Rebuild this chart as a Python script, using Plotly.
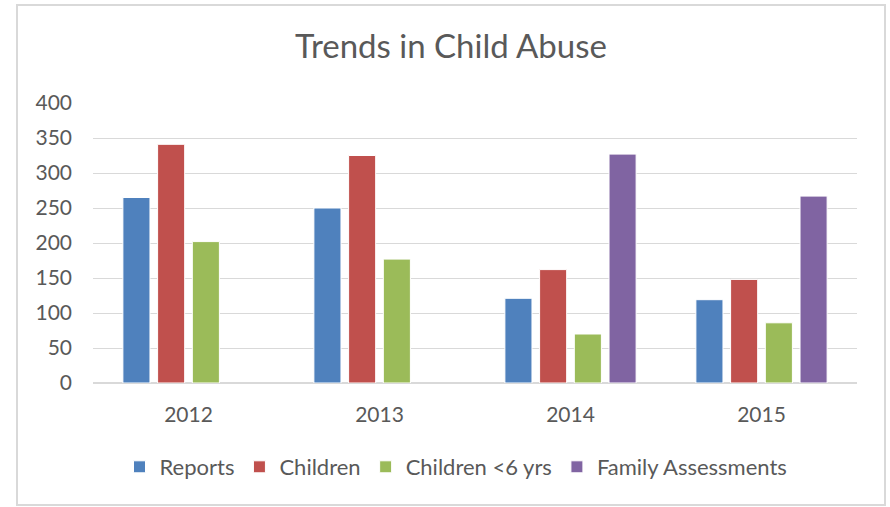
import plotly.graph_objects as go

# Yearly figures for each series (Family Assessments starts in 2014)
years = ["2012", "2013", "2014", "2015"]
reports = [265, 250, 121, 119]
children = [341, 325, 162, 148]
children_under6 = [202, 177, 70, 86]
family_assessments = [None, None, 327, 267]

series = [
    ("Reports", reports, "#4F81BD"),
    ("Children", children, "#C0504D"),
    ("Children <6 yrs", children_under6, "#9BBB59"),
    ("Family Assessments", family_assessments, "#8064A2"),
]

font_family = "Lato, 'Open Sans', sans-serif"
text_color = "#595959"
grid_color = "#D9D9D9"

fig = go.Figure()
for name, values, color in series:
    fig.add_trace(go.Bar(
        x=years,
        y=values,
        name=name,
        marker=dict(color=color, line=dict(color="white", width=1)),
    ))

W, H = 890, 507
ml, mr, mt, mb = 93, 33, 103, 124
pw, ph = W - ml - mr, H - mt - mb

def px_x(p):
    return (p - ml) / pw

def px_y(p):
    return (H - mb - p) / ph

fig.update_layout(
    width=W,
    height=H,
    margin=dict(l=ml, r=mr, t=mt, b=mb),
    paper_bgcolor="white",
    plot_bgcolor="white",
    barmode="group",
    bargap=0.273,
    bargroupgap=0.22,
    font=dict(family=font_family, color=text_color, size=20),
    title=dict(
        text="Trends in Child Abuse",
        x=451 / W,
        xanchor="center",
        xref="container",
        y=1 - 46 / H,
        yanchor="middle",
        font=dict(size=33, color=text_color, family=font_family),
    ),
    legend=dict(
        orientation="h",
        x=px_x(456),
        xanchor="center",
        y=px_y(467),
        yanchor="middle",
        font=dict(size=22, color=text_color),
        itemwidth=30,
        traceorder="normal",
    ),
    xaxis=dict(
        showgrid=False,
        showline=False,
        ticks="",
        ticklabelstandoff=17,
        tickfont=dict(size=21, color=text_color),
    ),
    yaxis=dict(
        range=[0, 400],
        dtick=50,
        showgrid=True,
        gridcolor=grid_color,
        gridwidth=1.3,
        zeroline=True,
        zerolinecolor=grid_color,
        zerolinewidth=1.5,
        showline=False,
        ticks="",
        ticklabelstandoff=20,
        tickfont=dict(size=21, color=text_color),
    ),
    shapes=[
        dict(
            type="rect",
            xref="paper",
            yref="paper",
            x0=px_x(17),
            x1=px_x(885),
            y0=px_y(505),
            y1=px_y(5),
            line=dict(color=grid_color, width=2),
            fillcolor="rgba(0,0,0,0)",
            layer="below",
        )
    ],
)

fig.write_html("out.html")
